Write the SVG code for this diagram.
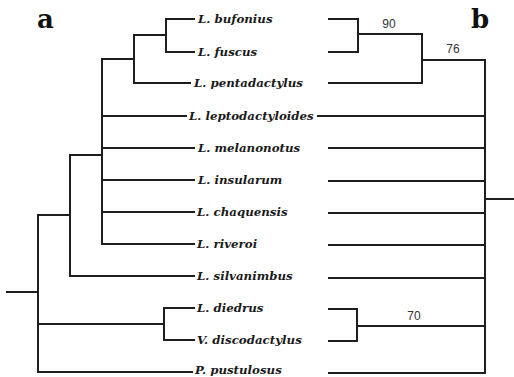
<svg xmlns="http://www.w3.org/2000/svg" width="514" height="377" viewBox="0 0 514 377">
<style>
.bg{fill:#ffffff}
.br{fill:none;stroke:#1e1e1e;stroke-width:2;stroke-linecap:square;stroke-linejoin:miter}
.tx{font-family:"DejaVu Serif","Liberation Serif",serif;font-style:italic;font-weight:bold;font-size:11.8px;fill:#1a1a1a}
.bs{font-family:"Liberation Sans",Arial,sans-serif;font-size:12px;fill:#333}
.pl{font-family:"DejaVu Serif","Liberation Serif",serif;font-weight:bold;font-size:26px;fill:#111}
</style>
<rect class="bg" x="0" y="0" width="514" height="377"/>
<g id="connectors">
<path class="br" d="M166,19H194M166,19V52H194M134,35H166M134,35V83H190M102,59H134M102,59V244M102,116H186M102,148H194M102,180H194M102,212H194M102,244H194M70,155H102M70,155V276H194M38,215H70M38,215V372H192M7,292H38M38,324H164M164,308V340M164,308H194M164,340H194"/>
<path class="br" d="M329,19H358V52H329M358,34H422M329,83H422V34M422,60H485M485,60V373M485,199H514M318,116H485M329,148H485M329,181H485M329,213H485M329,245H485M329,278H485M329,373H485M329,309H357V341H329M357,326H485"/>
</g>
<g id="panel-a"><text class="pl" x="37" y="28">a</text></g>
<g id="panel-b"><text class="pl" x="471" y="28">b</text></g>
<g id="t-bufonius"><text class="tx" x="198" y="23">L. bufonius</text></g>
<g id="t-fuscus"><text class="tx" x="198" y="56">L. fuscus</text></g>
<g id="t-pentadactylus"><text class="tx" x="194" y="87">L. pentadactylus</text></g>
<g id="t-leptodactyloides"><text class="tx" x="189" y="120">L. leptodactyloides</text></g>
<g id="t-melanonotus"><text class="tx" x="198" y="152">L. melanonotus</text></g>
<g id="t-insularum"><text class="tx" x="198" y="184">L. insularum</text></g>
<g id="t-chaquensis"><text class="tx" x="197" y="216">L. chaquensis</text></g>
<g id="t-riveroi"><text class="tx" x="197" y="248">L. riveroi</text></g>
<g id="t-silvanimbus"><text class="tx" x="197" y="280">L. silvanimbus</text></g>
<g id="t-diedrus"><text class="tx" x="197" y="312">L. diedrus</text></g>
<g id="t-discodactylus"><text class="tx" x="197" y="344">V. discodactylus</text></g>
<g id="t-pustulosus"><text class="tx" x="195" y="374">P. pustulosus</text></g>
<g id="b90"><text class="bs" x="389" y="28" text-anchor="middle">90</text></g>
<g id="b76"><text class="bs" x="453" y="53" text-anchor="middle">76</text></g>
<g id="b70"><text class="bs" x="414" y="320" text-anchor="middle">70</text></g>
</svg>
